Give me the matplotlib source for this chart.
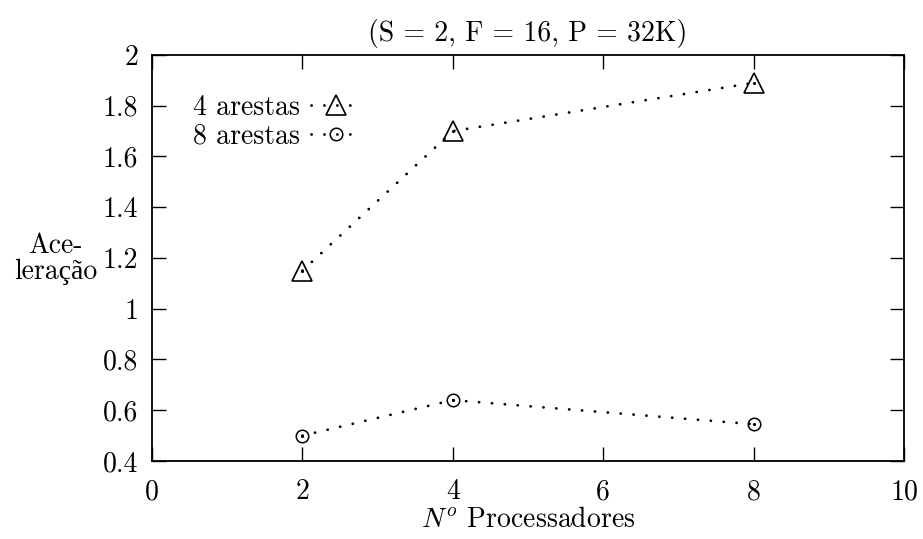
import matplotlib.pyplot as plt
from matplotlib.ticker import FuncFormatter

plt.rcParams['font.family'] = ['cmr10', 'Liberation Serif']
plt.rcParams['mathtext.fontset'] = 'cm'
plt.rcParams['axes.unicode_minus'] = False

procs = [2, 4, 8]
acel_4 = [1.15, 1.70, 1.89]
acel_8 = [0.50, 0.64, 0.545]

fig = plt.figure(figsize=(9.23, 5.39), dpi=100)
ax = fig.add_axes([0.1647, 0.1447, 0.8147, 0.7533])

# sparse gnuplot-like dotted line
dots = (0, (0.05, 4.6))
ax.plot(procs, acel_4, linestyle=dots, dash_capstyle='round', color='black',
        linewidth=2.0, marker='^', markersize=15, markerfacecolor='none',
        markeredgecolor='black', markeredgewidth=1.2, label='4 arestas')
ax.plot(procs, acel_8, linestyle=dots, dash_capstyle='round', color='black',
        linewidth=2.0, marker='o', markersize=9, markerfacecolor='none',
        markeredgecolor='black', markeredgewidth=1.1, label='8 arestas')
# small centre dot inside each point symbol
ax.plot(procs, acel_8, linestyle='none', marker='.', markersize=2.5, color='black')
ax.plot(procs, acel_4, linestyle='none', marker='.', markersize=2.5, color='black')

ax.set_xlim(0, 10)
ax.set_ylim(0.4, 2.0)
ax.set_xticks([0, 2, 4, 6, 8, 10])
ax.set_yticks([0.4, 0.6, 0.8, 1.0, 1.2, 1.4, 1.6, 1.8, 2.0])
ax.yaxis.set_major_formatter(FuncFormatter(lambda v, p: '%g' % v))
ax.tick_params(direction='in', length=10, width=1.0, top=True, right=True,
               labelsize=20)
ax.tick_params(axis='x', pad=13)
ax.tick_params(axis='y', pad=10)
for s in ax.spines.values():
    s.set_linewidth(1.3)

ax.set_title('(S = 2, F = 16, P = 32K)', fontsize=20, pad=10)
ax.set_xlabel(r'$N^o$ Processadores', fontsize=20, labelpad=1)
fig.text(0.06, 0.52, 'Ace-\nleração', fontsize=20, ha='center', va='center',
         linespacing=0.95)

ax.legend(loc='upper left', bbox_to_anchor=(0.04, 0.93), frameon=False,
          markerfirst=False, fontsize=20, handlelength=1.8, handletextpad=0.4,
          labelspacing=0.1, borderaxespad=0)

fig.savefig('out.png', dpi=100)
